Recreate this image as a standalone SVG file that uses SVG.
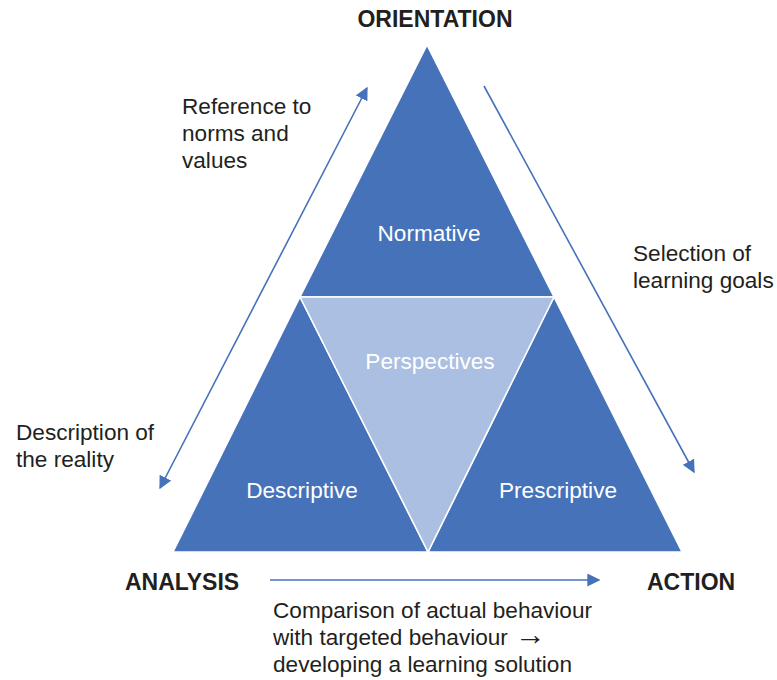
<svg xmlns="http://www.w3.org/2000/svg" width="777" height="680" viewBox="0 0 777 680">
<style>
.dark{fill:#4672BA;stroke:#fff;stroke-width:1.5}
.light{fill:#AABFE1;stroke:#fff;stroke-width:1.5}
.in{font-family:"Liberation Sans",Arial,sans-serif;font-size:22.6px;fill:#fff;text-anchor:middle}
.lbl{font-family:"Liberation Sans",Arial,sans-serif;font-size:22.6px;fill:#231F20}
.hd{font-family:"Liberation Sans",Arial,sans-serif;font-size:23px;font-weight:bold;fill:#231F20}
.arr{stroke:#4672BA;stroke-width:1.6;fill:none;marker-end:url(#ah)}
.sym{font-family:"Liberation Serif",serif;font-size:31px}
</style>
<defs>
<marker id="ah" viewBox="0 0 10 10" refX="9" refY="5" markerWidth="13" markerHeight="13" markerUnits="userSpaceOnUse" orient="auto-start-reverse">
<path d="M0,0 L10,5 L0,10 Z" fill="#4672BA"/>
</marker>
</defs>
<rect width="777" height="680" fill="#fff"/>
<g id="normative">
<polygon class="dark" points="427,45 554,297 300,297"/>
<text class="in" x="429" y="241">Normative</text>
</g>
<g id="descriptive">
<polygon class="dark" points="300,297 428,552 173,552"/>
<text class="in" x="302" y="498">Descriptive</text>
</g>
<g id="prescriptive">
<polygon class="dark" points="554,297 682,552 428,552"/>
<text class="in" x="558" y="498">Prescriptive</text>
</g>
<g id="perspectives">
<polygon class="light" points="300,297 554,297 428,552"/>
<text class="in" x="430" y="369">Perspectives</text>
</g>
<g id="connectors">
<line class="arr" x1="160" y1="488" x2="367" y2="88" style="marker-start:url(#ah)"/>
<line class="arr" x1="484" y1="86" x2="694" y2="472"/>
<line class="arr" x1="270" y1="580" x2="599" y2="580"/>
</g>
<g id="labels">
<text class="hd" x="435" y="27" text-anchor="middle">ORIENTATION</text>
<text class="hd" x="125" y="590">ANALYSIS</text>
<text class="hd" x="647" y="590">ACTION</text>
<text class="lbl" x="182" y="114">Reference to</text>
<text class="lbl" x="182" y="141">norms and</text>
<text class="lbl" x="182" y="168">values</text>
<text class="lbl" x="16" y="440">Description of</text>
<text class="lbl" x="16" y="467">the reality</text>
<text class="lbl" x="633" y="261">Selection of</text>
<text class="lbl" x="633" y="288">learning goals</text>
<text class="lbl" x="273" y="618">Comparison of actual behaviour</text>
<text class="lbl" x="273" y="645">with targeted behaviour <tspan class="sym" x="515">→</tspan></text>
<text class="lbl" x="273" y="672">developing a learning solution</text>
</g>
</svg>
